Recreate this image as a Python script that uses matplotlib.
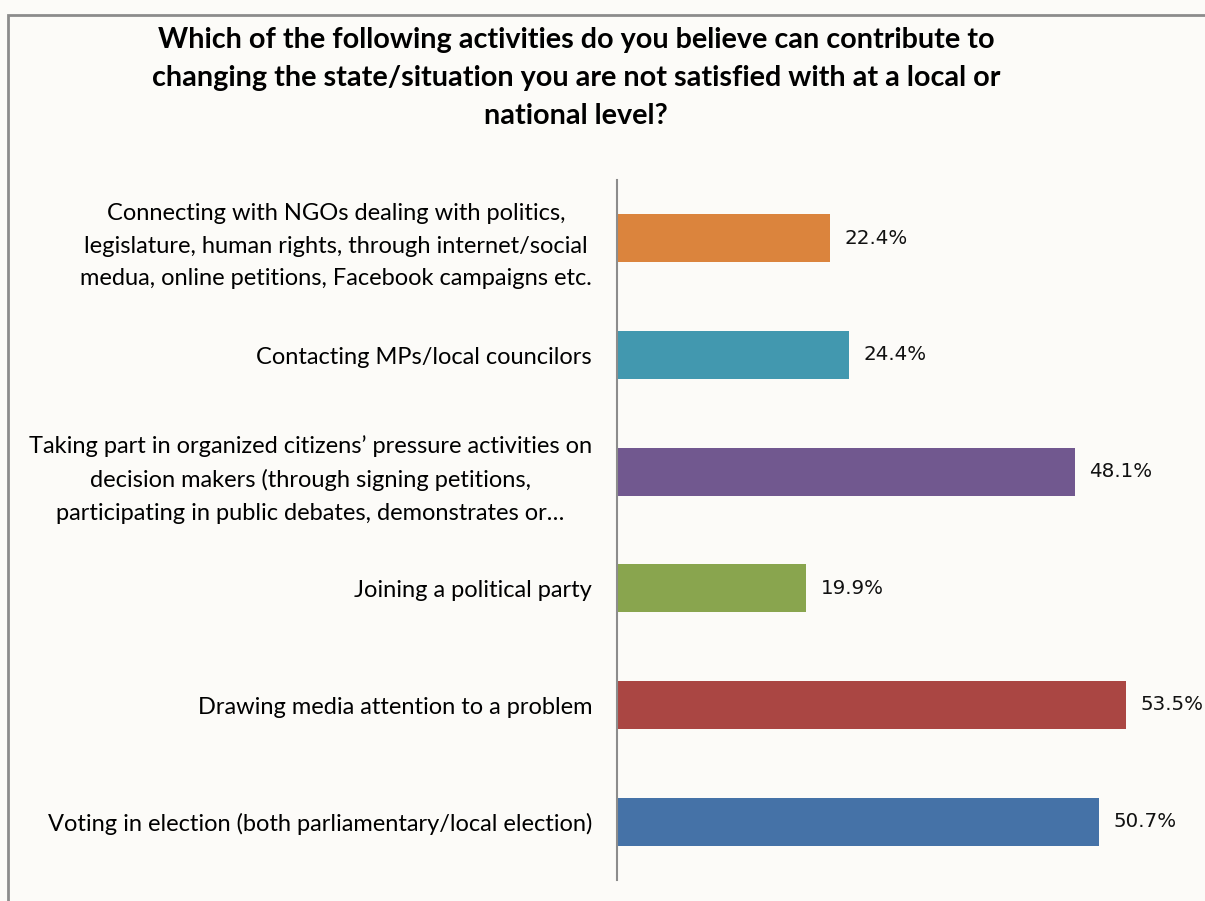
import matplotlib.pyplot as plt
from matplotlib.patches import Rectangle

categories = [
    'Voting in election (both parliamentary/local election)',
    'Drawing media attention to a problem',
    'Joining a political party',
    'Taking part in organized citizens\u2019 pressure activities on\n'
    'decision makers (through signing petitions,\n'
    'participating in public debates, demonstrates or\u2026',
    'Contacting MPs/local councilors',
    'Connecting with NGOs dealing with politics,\n'
    'legislature, human rights, through internet/social\n'
    'medua, online petitions, Facebook campaigns etc.',
]
values = [50.7, 53.5, 19.9, 48.1, 24.4, 22.4]
colors = ['#4572A7', '#AA4643', '#89A54E', '#71588F', '#4298AF', '#DB843D']

title = ('Which of the following activities do you believe can contribute to\n'
         'changing the state/situation you are not satisfied with at a local or\n'
         'national level?')

bg = '#FCFBF8'
fig = plt.figure(figsize=(12.05, 9.01), dpi=100, facecolor=bg)

# outer chart border (only left/top visible in the crop)
fig.patches.append(Rectangle((8 / 1205, -0.1), 1.2, 1 - 15 / 901 + 0.1,
                             transform=fig.transFigure, fill=False,
                             edgecolor='#8C8C8C', linewidth=2))

ax = fig.add_axes([617 / 1205, 1 - 880 / 901, 1 - 617 / 1205, 700 / 901])
ax.set_facecolor(bg)

y = list(range(len(categories)))
ax.barh(y, values, height=0.41, color=colors)
ax.set_xlim(0, 61.8)
ax.set_ylim(-0.5, len(categories) - 0.5)

for yi, v in zip(y, values):
    ax.text(v + 1.5, yi, f'{v:.1f}%', va='center', ha='left',
            fontsize=14.3, family='DejaVu Sans', color='#111111', clip_on=False)

ax.set_yticks(y)
ax.set_yticklabels(categories, fontsize=17, family='Lato',
                   multialignment='center', linespacing=1.68)
ax.tick_params(axis='y', length=0, pad=18)
ax.tick_params(axis='x', bottom=False, labelbottom=False)
for s in ['top', 'right', 'bottom']:
    ax.spines[s].set_visible(False)
ax.spines['left'].set_color('#8C8C8C')
ax.spines['left'].set_linewidth(1.5)

fig.text(576 / 1205, 1 - 78 / 901, title, ha='center', va='center',
         fontsize=20.7, fontweight='bold', family='Lato', linespacing=1.58)

fig.savefig('out.png', dpi=100, facecolor=bg)
